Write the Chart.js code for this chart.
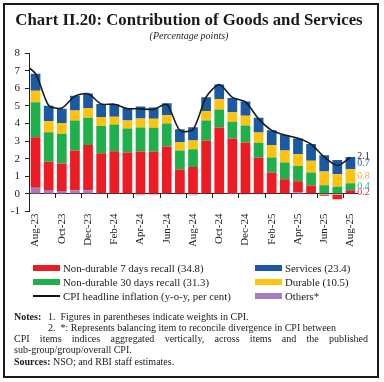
<!DOCTYPE html>
<html><head><meta charset="utf-8">
<script src="https://cdn.jsdelivr.net/npm/chart.js@4.4.0/dist/chart.umd.min.js"></script>
<style>
html,body{margin:0;padding:0;background:#fff;}
#wrap{position:relative;width:384px;height:382px;overflow:hidden;font-family:"Liberation Serif","DejaVu Serif",serif;color:#1a1a1a;}
#frame{position:absolute;left:3px;top:3px;width:376px;height:375px;border:2px solid #1a1a1a;box-sizing:border-box;}
#c{position:absolute;left:0;top:0;}
.t{position:absolute;white-space:nowrap;}
#title{left:0;width:378px;top:9px;text-align:center;font-weight:bold;font-size:16.8px;line-height:21px;}
#sub{left:0;width:378px;top:30px;text-align:center;font-style:italic;font-size:10px;line-height:12px;}
.lg{position:absolute;font-size:10.8px;line-height:12px;white-space:nowrap;}
.sw{position:absolute;width:27px;height:6px;}
.nt{position:absolute;font-size:10px;line-height:11px;white-space:nowrap;}
</style></head>
<body><div id="wrap">
<canvas id="c" width="384" height="260"></canvas>
<div id="frame"></div>
<div class="t" id="title">Chart II.20: Contribution of Goods and Services</div>
<div class="t" id="sub">(Percentage points)</div>
<div id="legend"></div>
<div class="nt" style="left:14px;top:311px;"><b>Notes:</b></div>
<div class="nt" style="left:48px;top:311px;">1.&nbsp; Figures in parentheses indicate weights in CPI.</div>
<div class="nt" style="left:48px;top:322px;">2.&nbsp; *: Represents balancing item to reconcile divergence in CPI between</div>
<div class="nt" style="left:14px;top:333px;width:354px;text-align:justify;text-align-last:justify;white-space:normal;">CPI items indices aggregated vertically, across items and the published</div>
<div class="nt" style="left:14px;top:344px;">sub-group/group/overall CPI.</div>
<div class="nt" style="left:14px;top:356px;"><b>Sources:</b> NSO; and RBI staff estimates.</div>
</div>
<script>
const months = ["Aug-23","Sep-23","Oct-23","Nov-23","Dec-23","Jan-24","Feb-24","Mar-24","Apr-24","May-24","Jun-24","Jul-24","Aug-24","Sep-24","Oct-24","Nov-24","Dec-24","Jan-25","Feb-25","Mar-25","Apr-25","May-25","Jun-25","Jul-25","Aug-25"];
const others     = [0.35,0.22,0.17,0.21,0.21,0.03,0.02,-0.03,-0.08,-0.07,0.02,-0.05,-0.08,0.02,0.02,0.01,-0.02,-0.05,0.00,0.02,0.10,0.02,0.00,0.00,0.00];
const nd7        = [2.87,1.60,1.55,2.25,2.56,2.28,2.40,2.35,2.40,2.39,2.67,1.38,1.52,3.01,3.75,3.13,2.92,2.05,1.21,0.81,0.62,0.45,-0.10,-0.30,0.20];
const nd30       = [1.99,1.68,1.69,1.71,1.55,1.55,1.52,1.36,1.37,1.36,1.31,1.08,1.02,1.14,1.02,0.95,0.96,0.85,0.85,0.95,0.87,0.74,0.49,0.40,0.40];
const durable    = [0.64,0.63,0.61,0.56,0.55,0.50,0.44,0.46,0.51,0.51,0.47,0.49,0.49,0.53,0.59,0.55,0.55,0.58,0.71,0.68,0.66,0.67,0.78,0.72,0.80];
const services   = [0.97,0.87,0.81,0.84,0.83,0.75,0.71,0.70,0.68,0.64,0.68,0.72,0.76,0.79,0.83,0.81,0.82,0.84,0.85,0.89,0.89,0.95,0.93,0.81,0.70];
// CPI headline inflation; first value is Jul-23 (line enters from the left edge)
const cpiMonthIndex = [-1,0,1,2,3,4,5,6,7,8,9,10,11,12,13,14,15,16,17,18,19,20,21,22,23,24];
const cpi        = [7.44,6.83,5.02,4.87,5.55,5.69,5.10,5.09,4.85,4.83,4.80,5.08,3.60,3.65,5.49,6.21,5.48,5.22,4.26,3.61,3.34,3.16,2.82,2.10,1.61,2.07];

const C = {red:"#EC1C24", green:"#20B04B", yellow:"#FFC20E", blue:"#1B5AA2", purple:"#A57BC2"};
const legendItems = [
  {t:"Non-durable 7 days recall (34.8)", c:C.red, x:33, y:262},
  {t:"Non-durable 30 days recall (31.3)", c:C.green, x:33, y:276},
  {t:"CPI headline inflation (y-o-y, per cent)", c:"#111", x:33, y:290, line:true},
  {t:"Services (23.4)", c:C.blue, x:255, y:262},
  {t:"Durable (10.5)", c:C.yellow, x:255, y:276},
  {t:"Others*", c:C.purple, x:255, y:290}
];
const lg = document.getElementById('legend');
legendItems.forEach(it=>{
  const s=document.createElement('div'); s.className='sw';
  s.style.left=it.x+'px';
  if(it.line){ s.style.top=(it.y+5)+'px'; s.style.height='2px'; }
  else { s.style.top=(it.y+3)+'px'; }
  s.style.background=it.c; lg.appendChild(s);
  const d=document.createElement('div'); d.className='lg';
  d.style.left=(it.x+30)+'px'; d.style.top=it.y+'px'; d.textContent=it.t; lg.appendChild(d);
});

const font = {family:"'Liberation Serif', serif", size:11};
const lastLabels = {
  id:'lastLabels',
  afterDatasetsDraw(chart){
    const ctx=chart.ctx; const n=months.length-1;
    ctx.save(); ctx.font="10px 'Liberation Serif', serif"; ctx.textBaseline='middle'; ctx.textAlign='left';
    const cols = ["#E8285A","#2DB88A","#F5B23C","#2F63B0"];
    [1,2,3,4].forEach((di,k)=>{
      const el=chart.getDatasetMeta(di).data[n];
      const ds=chart.data.datasets[di].data[n];
      ctx.fillStyle=cols[k];
      ctx.fillText(Math.abs(ds).toFixed(1), el.x+el.width/2+2, (el.y+el.base)/2);
    });
    const top=chart.getDatasetMeta(4).data[n];
    ctx.fillStyle="#222";
    ctx.fillText(cpi[cpi.length-1].toFixed(1), top.x+top.width/2+2, top.y-1);
    ctx.restore();
  }
};

const barDs = (label,data,color)=>({type:'bar',label,data,backgroundColor:color,borderWidth:0,barPercentage:0.74,categoryPercentage:1,grouped:false,xAxisID:'x',yAxisID:'y',order:2});
new Chart(document.getElementById('c'),{
  data:{
    labels:months,
    datasets:[
      barDs('Others*',others,C.purple),
      barDs('Non-durable 7 days recall (34.8)',nd7,C.red),
      barDs('Non-durable 30 days recall (31.3)',nd30,C.green),
      barDs('Durable (10.5)',durable,C.yellow),
      barDs('Services (23.4)',services,C.blue),
      {type:'line',label:'CPI headline inflation (y-o-y, per cent)',data:cpi.map((v,i)=>({x:cpiMonthIndex[i],y:v})),xAxisID:'xn',yAxisID:'y',borderColor:'#1a1a1a',borderWidth:1.6,pointRadius:0,tension:0.25,order:1}
    ]
  },
  options:{
    responsive:false, animation:false, devicePixelRatio:1,
    layout:{padding:{left:0,right:27,top:53,bottom:0}},
    plugins:{legend:{display:false},tooltip:{enabled:false}},
    scales:{
      x:{type:'category',position:{y:0},stacked:true,offset:true,
         grid:{offset:true,drawOnChartArea:false,drawTicks:true,tickLength:4,tickWidth:1,
               tickColor:(c)=> (c.index!==undefined && c.index%2===0) ? '#222' : 'rgba(0,0,0,0)'},
         border:{display:true,color:'#222',width:1},ticks:{display:false}},
      xl:{type:'category',labels:months,position:'bottom',offset:true,
         grid:{display:false,drawTicks:false},border:{display:false},
         ticks:{autoSkip:false,maxRotation:90,minRotation:90,padding:2,font:font,color:'#222',
                callback:(v,i)=> i%2===0 ? months[i] : ''},
         afterFit:(s)=>{s.height=48.5;}},
      xn:{type:'linear',display:false,min:-0.5,max:24.5},
      y:{stacked:true,min:-1,max:8,
         ticks:{stepSize:1,font:font,color:'#222',padding:5},
         grid:{drawOnChartArea:false,drawTicks:true,tickLength:4,color:'#222'},
         border:{display:true,color:'#222',width:1},
         afterFit:(s)=>{s.width=29;}}
    }
  },
  plugins:[lastLabels]
});
</script>
</body></html>
